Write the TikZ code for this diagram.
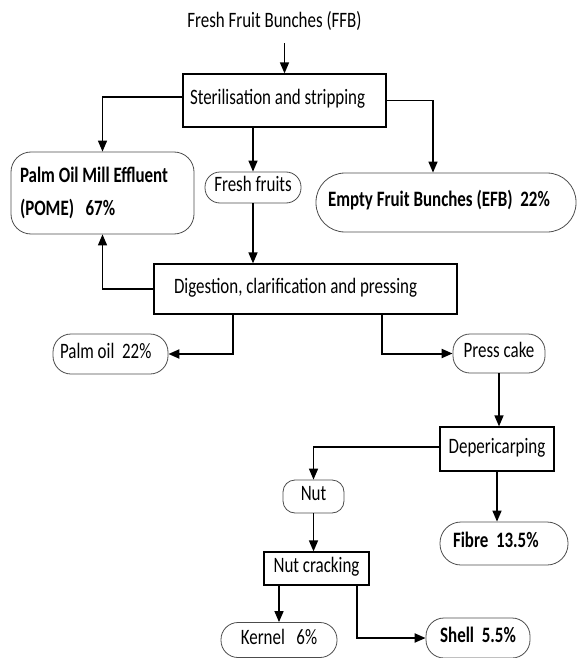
\documentclass[tikz,border=0pt]{standalone}
\usepackage{fontspec}
\setmainfont{Carlito}[FakeStretch=0.77]
\usepackage{tikz}
\usetikzlibrary{arrows.meta}

\begin{document}
\begin{tikzpicture}[x=1pt, y=-1pt,
    font=\fontsize{22}{33}\selectfont,
    procbox/.style={draw=black, line width=1.2pt, inner ysep=0pt, text height=13pt, text depth=5pt},
    outbox/.style={draw=black!70, line width=0.8pt, inner ysep=0pt, text height=13pt, text depth=5pt},
    link/.style={line width=1.5pt, -{Triangle[width=9pt,length=11pt]}},
    thicklink/.style={link, line width=2pt}]
    \useasboundingbox (0,0) rectangle (577,658);

    % Entrada - FFB (texto solto)
    \node[inner xsep=2pt, inner ysep=10pt, text height=13pt, text depth=5pt] (ffb) at (274.5,24) {Fresh Fruit Bunches (FFB)};

    % Etapa 1 - esterilizacao (caixa preta)
    \node[procbox, inner xsep=7pt, minimum height=53pt] (ster) at (284.5,100.5) {\makebox[189pt][l]{Sterilisation and stripping}};

    % Saidas da etapa 1 (caixas arredondadas)
    \node[draw=black!70, line width=0.8pt, rounded corners=20pt, align=left, inner xsep=9pt, minimum height=82pt] (pome) at (102.5,193) {\makebox[165pt][l]{\textbf{Palm Oil Mill Effluent}}\\\textbf{(POME)\ \ \ 67\%}};
    \node[outbox, rounded corners=15pt, minimum width=96pt, minimum height=31pt] (fresh) at (253,187.5) {Fresh fruits};
    \node[outbox, rounded corners=29pt, inner xsep=12pt, minimum height=59pt] (efb) at (446,202.5) {\makebox[236pt][l]{\textbf{Empty Fruit Bunches (EFB)\ \ 22\%}}};

    % Etapa 2 - digestao (caixa preta)
    \node[procbox, inner xsep=20pt, minimum height=50pt] (dig) at (305.5,289) {\makebox[263pt][l]{Digestion, clarification and pressing}};

    % Saidas da etapa 2
    \node[outbox, rounded corners=18pt, inner xsep=7pt, minimum height=40pt] (palm) at (110.5,354) {\makebox[101pt][l]{Palm oil\ \ 22\%}};
    \node[outbox, rounded corners=17pt, minimum width=92pt, minimum height=39pt] (press) at (499,353.5) {Press cake};

    % Etapa 3 - despolpa
    \node[procbox, minimum width=114pt, minimum height=44pt] (dep) at (497,449) {Depericarping};
    \node[outbox, rounded corners=12pt, minimum width=61pt, minimum height=33pt] (nut) at (313.5,496.5) {Nut};
    \node[outbox, rounded corners=21pt, inner xsep=13pt, minimum height=43pt] (fibre) at (504,543.5) {\makebox[102pt][l]{\textbf{Fibre\ \ 13.5\%}}};

    % Etapa 4 - quebra da noz
    \node[procbox, minimum width=105pt, minimum height=33pt] (crack) at (316.5,568.5) {Nut cracking};
    \node[outbox, rounded corners=17pt, minimum width=116pt, minimum height=35pt] (kernel) at (279,640) {Kernel\ \ \ 6\%};
    \node[outbox, rounded corners=18pt, minimum width=104pt, minimum height=40pt] (shell) at (478,638) {\textbf{Shell\ \ 5.5\%}};

    % Ligacoes
    \draw[link] (ffb.south -| ster.north) -- (ster.north);
    \draw[link] ([yshift=3.5pt]ster.west) -| (pome.north);
    \draw[link] (ster.south -| fresh.north) -- (fresh.north);
    \draw[link] (ster.east) -| ([xshift=-13pt]efb.north);
    \draw[link] (fresh.south) -- (fresh.south |- dig.north);
    \draw[link] (dig.west) -| (pome.south);
    \draw[thicklink] ([xshift=-72.5pt]dig.south) |- (palm.east);
    \draw[thicklink] ([xshift=76.5pt]dig.south) |- (press.west);
    \draw[link] (press.south) -- (press.south |- dep.north);
    \draw[link] ([yshift=2pt]dep.west) -| (nut.north);
    \draw[link] (dep.south) -- (dep.south |- fibre.north);
    \draw[link] (nut.south) -- (nut.south |- crack.north);
    \draw[link] (crack.south -| kernel.north) -- (kernel.north);
    \draw[thicklink] ([xshift=40.5pt]crack.south) |- (shell.west);
\end{tikzpicture}
\end{document}
